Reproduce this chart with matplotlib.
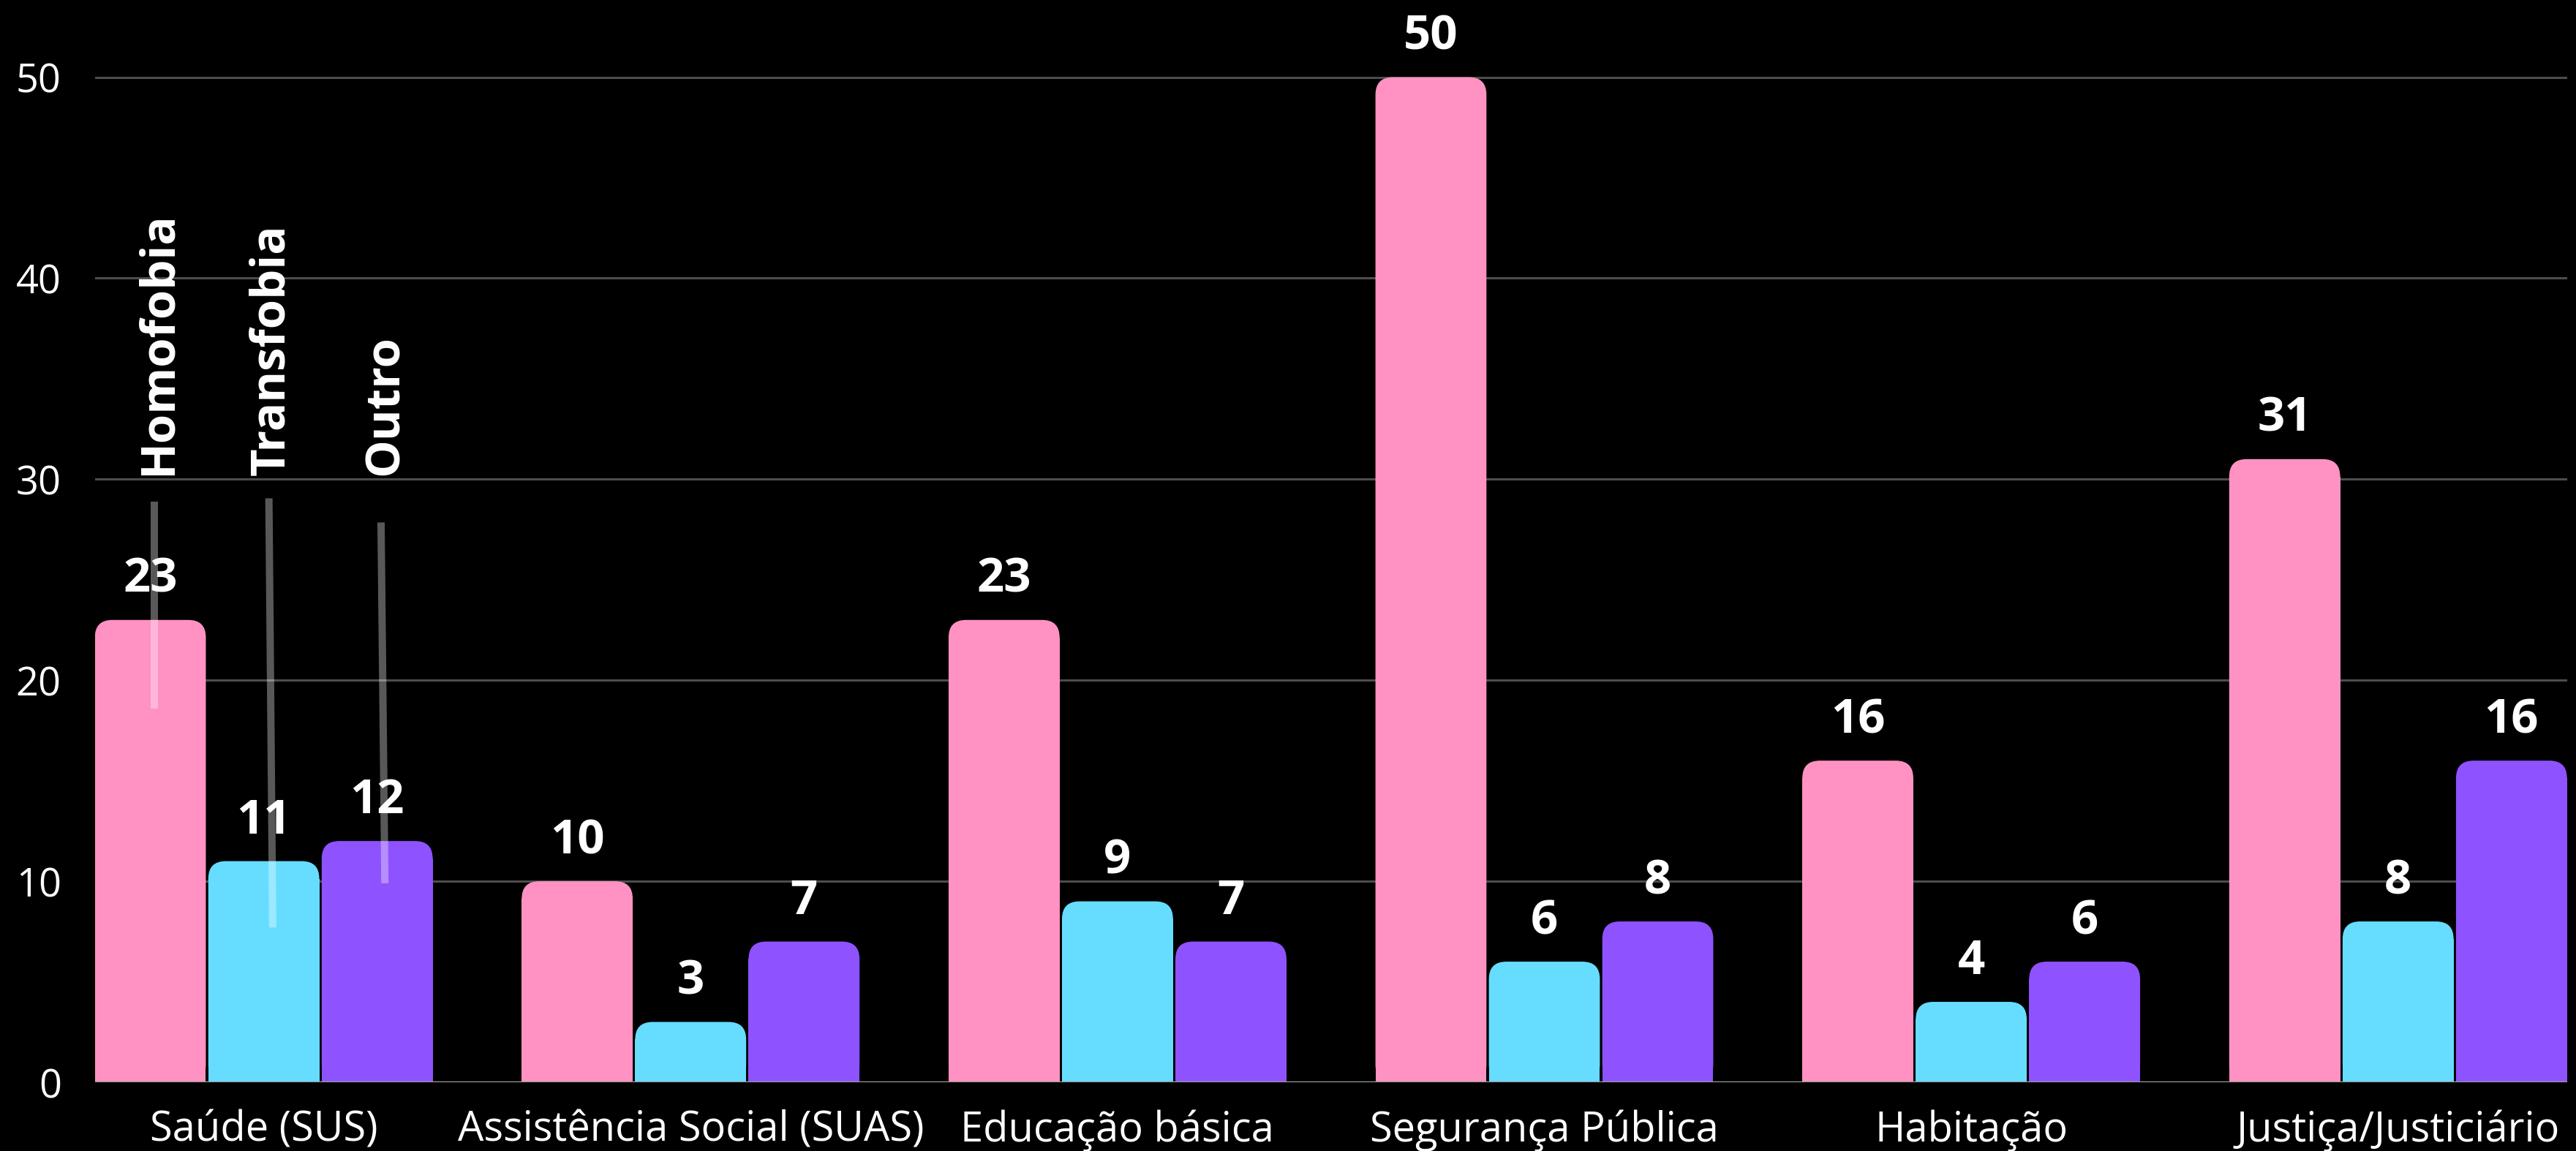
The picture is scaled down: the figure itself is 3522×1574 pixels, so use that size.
import matplotlib
matplotlib.use("Agg")
import matplotlib.pyplot as plt
from matplotlib.patches import FancyBboxPatch, Rectangle

plt.rcParams['font.family'] = ['Open Sans', 'DejaVu Sans']

# data
categories = ["Saúde (SUS)", "Assistência Social (SUAS)", "Educação básica",
              "Segurança Pública", "Habitação", "Justiça/Justiciário"]
series = ["Homofobia", "Transfobia", "Outro"]
homofobia = [23, 10, 23, 50, 16, 31]
transfobia = [11, 3, 9, 6, 4, 8]
outro = [12, 7, 7, 8, 6, 16]
values = [homofobia, transfobia, outro]
colors = ["#ff92c2", "#66ddff", "#8f52ff"]

# leader lines from the series names down into the first group
leader_top = [28.9, 29.05, 27.85]
leader_bottom = [18.6, 7.7, 9.9]
leader_dx = [(0.010, 0.010), (0.012, 0.021), (0.009, 0.018)]

STEP = 0.2657       # distance between bar centres in a group
WIDTH = 0.26
RADIUS = 0.041      # corner radius in x units
ASPECT = 21.2       # y units per x unit on screen

fig = plt.figure(figsize=(35.23, 15.74), dpi=100, facecolor="black")
ax = fig.add_axes([129.7 / 3523, 94 / 1574, 3380 / 3523, 1480 / 1574])
ax.set_facecolor("black")

for i, (vals, col) in enumerate(zip(values, colors)):
    for g, v in enumerate(vals):
        xc = g + (i - 1) * STEP
        x0 = xc - WIDTH / 2
        # rounded top, square bottom
        ax.add_patch(FancyBboxPatch((x0, 0), WIDTH, v,
                                    boxstyle=f"round,pad=0,rounding_size={RADIUS}",
                                    mutation_aspect=ASPECT, fc=col, ec="none",
                                    zorder=3))
        ax.add_patch(Rectangle((x0, 0), WIDTH, v - RADIUS * ASPECT,
                               fc=col, ec="none", zorder=3))
        ax.annotate(str(v), (xc, v), xytext=(0, 38), textcoords="offset pixels",
                    ha="center", va="baseline", color="white", fontsize=47,
                    fontweight="bold", zorder=5)

# series names over the first group
for i, name in enumerate(series):
    xc = (i - 1) * STEP
    ax.text(xc + 0.048, 30.2, name, rotation=90, rotation_mode="anchor",
            ha="left", va="baseline", color="white", fontsize=47,
            fontweight="bold", zorder=5)
    ax.plot([xc + leader_dx[i][0], xc + leader_dx[i][1]],
            [leader_top[i], leader_bottom[i]], color="white", alpha=0.35,
            lw=7.2, solid_capstyle="butt", zorder=4)

ax.set_xlim(-0.3957, 5.3957)
ax.set_ylim(0, 53.84)
ax.set_yticks([0, 10, 20, 30, 40, 50])
ax.set_xticks(range(len(categories)))
ax.set_xticklabels(categories)
for y in [10, 20, 30, 40, 50]:
    ax.axhline(y, color="#4d4d4d", lw=2.2, zorder=1)
ax.axhline(0, color="#9a9a9a", lw=2.5, zorder=4)

ax.tick_params(axis="y", length=0, pad=33, labelsize=39, labelcolor="white")
ax.tick_params(axis="x", length=0, pad=27, labelsize=40.3, labelcolor="white")
for s in ax.spines.values():
    s.set_visible(False)

fig.savefig("out.png", dpi=100, facecolor="black")
